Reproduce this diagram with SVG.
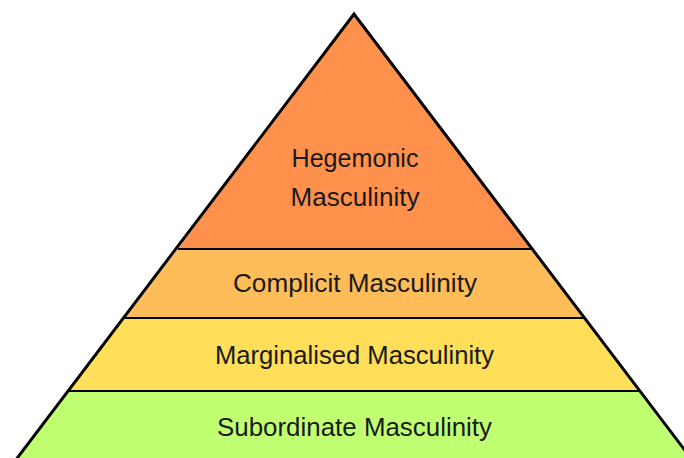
<svg xmlns="http://www.w3.org/2000/svg" width="684" height="458" viewBox="0 0 684 458">
<style>
.lbl{font-family:"Liberation Sans",Arial,sans-serif;font-size:25px;fill:#1a1a1a;text-anchor:middle}
.div{stroke:#000;stroke-width:2;fill:none}
</style>
<rect width="684" height="458" fill="#fff"/>
<g id="tier-hegemonic">
<polygon points="354,14 178,249 531,249" fill="#FF914D"/>
<text class="lbl" x="355" y="167" textLength="127" lengthAdjust="spacingAndGlyphs">Hegemonic</text>
<text class="lbl" x="355" y="206" textLength="129" lengthAdjust="spacingAndGlyphs">Masculinity</text>
</g>
<g id="tier-complicit">
<polygon points="178,249 531,249 584,318 125,318" fill="#FFBD59"/>
<text class="lbl" x="355" y="292" textLength="244" lengthAdjust="spacingAndGlyphs">Complicit Masculinity</text>
</g>
<g id="tier-marginalised">
<polygon points="125,318 584,318 640,391 69,391" fill="#FFDE59"/>
<text class="lbl" x="354.5" y="364" textLength="279" lengthAdjust="spacingAndGlyphs">Marginalised Masculinity</text>
</g>
<g id="tier-subordinate">
<polygon points="69,391 640,391 692,460 17,460" fill="#C1FF72"/>
<text class="lbl" x="354.5" y="436" textLength="275" lengthAdjust="spacingAndGlyphs">Subordinate Masculinity</text>
</g>
<g id="connectors">
<line class="div" x1="178" y1="249" x2="531" y2="249"/>
<line class="div" x1="125" y1="318" x2="584" y2="318"/>
<line class="div" x1="69" y1="391" x2="640" y2="391"/>
<polyline points="15,461 354,14 693,461" fill="none" stroke="#000" stroke-width="3" stroke-linejoin="miter"/>
</g>
</svg>
